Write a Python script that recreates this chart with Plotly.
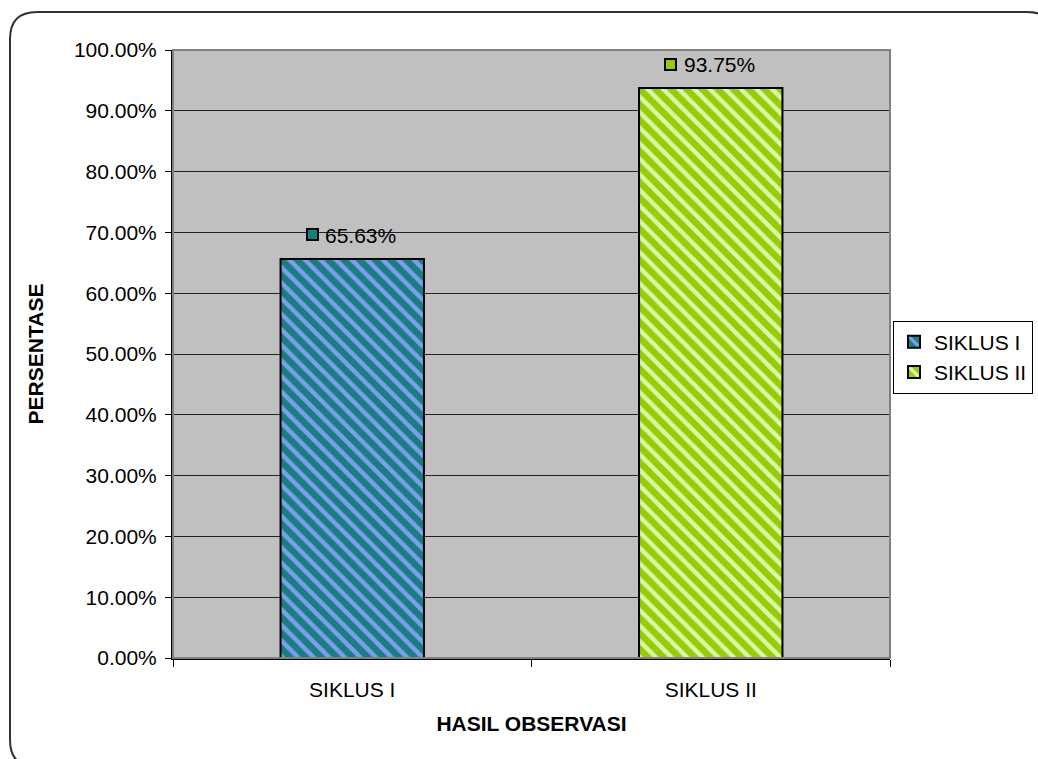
import plotly.graph_objects as go

categories = ["SIKLUS I", "SIKLUS II"]
values = [0.6563, 0.9375]
label_texts = ["65.63%", "93.75%"]
series_names = ["SIKLUS I", "SIKLUS II"]
bg_colors = ["#17807F", "#99CC00"]
fg_colors = ["#7F9CF2", "#D8F7A8"]
y_ticks = [i / 10 for i in range(11)]

W, H = 1038, 759
ML, MR, MT, MB = 173, 148, 50, 101
PW, PH = W - ML - MR, H - MT - MB

def px(xp):
    return (xp - ML) / PW

def py(yp):
    return (H - MB - yp) / PH

fig = go.Figure()
for i, cat in enumerate(categories):
    fig.add_trace(go.Bar(
        x=[cat], y=[values[i]], name=series_names[i],
        width=0.4,
        marker=dict(
            color=bg_colors[i],
            line=dict(color="black", width=2),
            pattern=dict(shape="\\", bgcolor=bg_colors[i], fgcolor=fg_colors[i],
                         size=11, solidity=0.4, fillmode="replace"),
        ),
        hoverinfo="skip",
    ))

font = "Arial, Liberation Sans, sans-serif"
annotations = []
for i, cat in enumerate(categories):
    annotations.append(dict(
        x=cat, y=values[i], xref="x", yref="y", text=label_texts[i],
        showarrow=False, xanchor="left", yanchor="bottom",
        xshift=-29, yshift=10, font=dict(family=font, size=21, color="black"),
    ))
    annotations.append(dict(
        x=cat, y=values[i], xref="x", yref="y", text=" ",
        showarrow=False, xanchor="center", yanchor="middle",
        xshift=-40, yshift=24, width=9, height=9,
        bgcolor=bg_colors[i], bordercolor="black", borderwidth=2, borderpad=0,
        font=dict(size=4),
    ))

# rounded chart frame
x0, y0, x1, y1, r = 10, 12, 1054, 767, 27
path = (f"M {px(x0+r)},{py(y0)} L {px(x1-r)},{py(y0)} "
        f"Q {px(x1)},{py(y0)} {px(x1)},{py(y0+r)} L {px(x1)},{py(y1-r)} "
        f"Q {px(x1)},{py(y1)} {px(x1-r)},{py(y1)} L {px(x0+r)},{py(y1)} "
        f"Q {px(x0)},{py(y1)} {px(x0)},{py(y1-r)} L {px(x0)},{py(y0+r)} "
        f"Q {px(x0)},{py(y0)} {px(x0+r)},{py(y0)} Z")
shapes = [
    dict(type="path", path=path, xref="paper", yref="paper",
         line=dict(color="#333333", width=2), layer="below"),
    dict(type="rect", x0=0, x1=1, y0=0, y1=1, xref="paper", yref="paper",
         line=dict(color="#808080", width=2), layer="above"),
]

fig.update_layout(
    width=W, height=H,
    margin=dict(l=ML, r=MR, t=MT, b=MB, autoexpand=False),
    paper_bgcolor="white", plot_bgcolor="#C0C0C0",
    font=dict(family=font, size=21, color="black"),
    showlegend=True,
    legend=dict(xref="container", yref="container",
                x=893 / W, y=(H - 357) / H, xanchor="left", yanchor="middle",
                bgcolor="white", bordercolor="black", borderwidth=1,
                font=dict(family=font, size=21), tracegroupgap=0,
                itemwidth=30),
    bargap=0.6,
    shapes=shapes,
    annotations=annotations,
    xaxis=dict(
        type="category", categoryorder="array", categoryarray=categories,
        showline=True, linecolor="black", linewidth=2, mirror=False,
        ticks="outside", tickson="boundaries", ticklen=7, tickcolor="black", tickwidth=1,
        showgrid=False, ticklabelstandoff=12,
        title=dict(text="<b>HASIL OBSERVASI</b>", standoff=16,
                   font=dict(family=font, size=21)),
        automargin=False,
    ),
    yaxis=dict(
        range=[0, 1], tickvals=y_ticks, tickformat=".2%",
        showline=True, linecolor="black", linewidth=2,
        ticks="outside", ticklen=6, tickcolor="black", tickwidth=1,
        showgrid=True, gridcolor="#222222", gridwidth=1,
        zeroline=False, ticklabelstandoff=4,
        title=dict(text="<b>PERSENTASE</b>", standoff=25,
                   font=dict(family=font, size=21)),
        automargin=False,
    ),
)

fig.write_html("out.html")
